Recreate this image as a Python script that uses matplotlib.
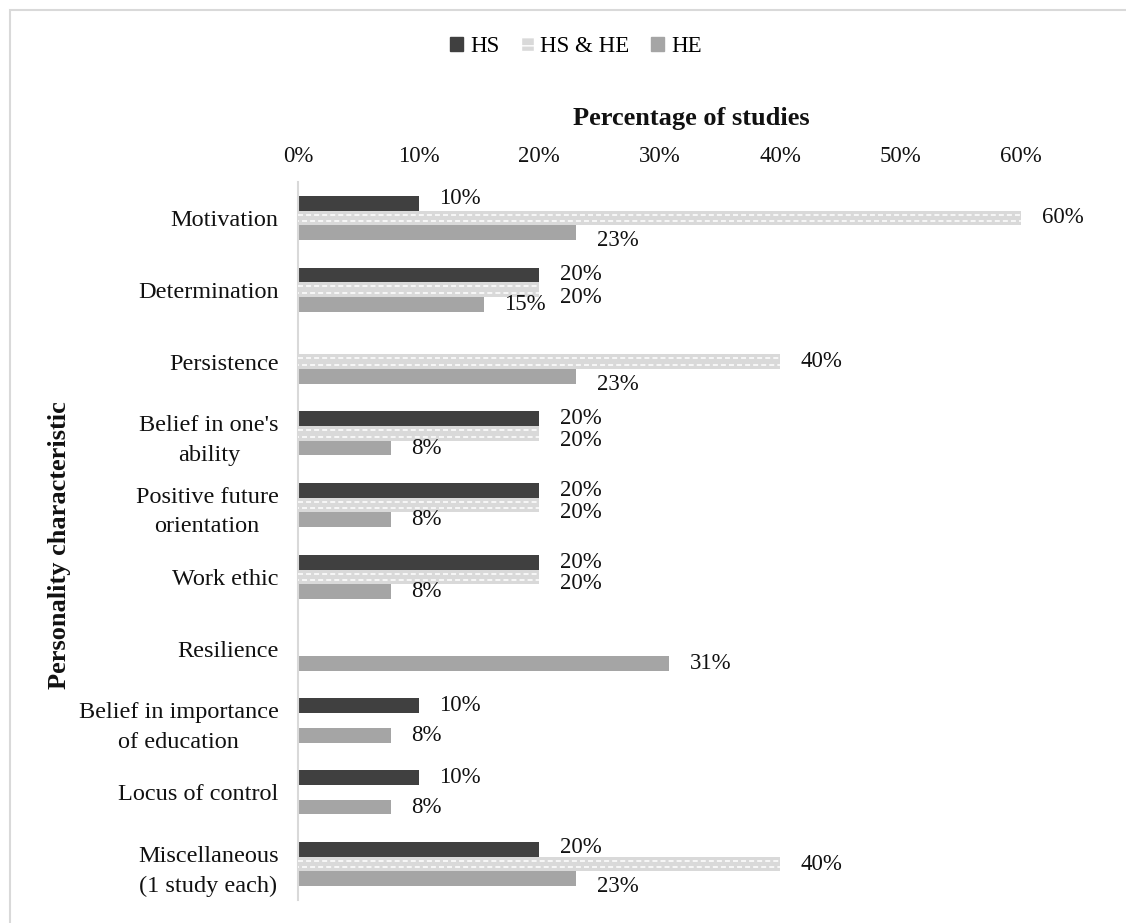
import matplotlib
matplotlib.use("Agg")
import matplotlib.pyplot as plt
from matplotlib.patches import Patch, Rectangle
import numpy as np

# Personality characteristics reported, share of studies per group
categories = [
    "Motivation",
    "Determination",
    "Persistence",
    "Belief in one's\nability",
    "Positive future\norientation",
    "Work ethic",
    "Resilience",
    "Belief in importance\nof education",
    "Locus of control",
    "Miscellaneous\n(1 study each)",
]
series_names = ["HS", "HS & HE", "HE"]
hs_values = [10, 20, 0, 20, 20, 20, 0, 10, 10, 20]
hs_he_values = [60, 20, 40, 20, 20, 20, 0, 0, 0, 40]
he_values = [23.1, 15.4, 23.1, 7.7, 7.7, 7.7, 30.8, 7.7, 7.7, 23.1]
x_ticks = [0, 10, 20, 30, 40, 50, 60]

# vertical nudges (pixels, downward) for data labels so neighbours don't collide
label_nudge = {
    "HS": [-5, 0, 0, 0, 0, 0, 0, 0, 0, -2],
    "HS & HE": [0, 8, 0, 7, 7, 7, 0, 0, 0, 0],
    "HE": [8, 0, 8, 0, 0, 0, 0, 0, 0, 8],
}

FONT = "Liberation Serif"
plt.rcParams["font.family"] = [FONT, "DejaVu Serif"]
plt.rcParams["lines.scale_dashes"] = False

W, H, DPI = 1126, 923, 100
fig = plt.figure(figsize=(W / DPI, H / DPI), dpi=DPI)
fig.patch.set_facecolor("white")

left_px, right_px, top_px, bottom_px = 298, 1021, 182, 900
ax = fig.add_axes([left_px / W, 1 - bottom_px / H,
                   (right_px - left_px) / W, (bottom_px - top_px) / H])

colors = {"HS": "#404040", "HS & HE": "#d9d9d9", "HE": "#a5a5a5"}
values = {"HS": hs_values, "HS & HE": hs_he_values, "HE": he_values}
bar_h = 0.205
offsets = {"HS": -bar_h, "HS & HE": 0.0, "HE": bar_h}
y = np.arange(len(categories))

bars = {}
for name in series_names:
    vals = np.array(values[name], dtype=float) / 100.0
    bars[name] = ax.barh(y + offsets[name], vals, height=bar_h,
                         color=colors[name], linewidth=0, zorder=2)

# white dashed rows on the light bars (brick-like pattern)
for rect in bars["HS & HE"]:
    w = rect.get_width()
    if w <= 0:
        continue
    y0 = rect.get_y()
    h = rect.get_height()
    for k, frac in enumerate([0.28, 0.72]):
        ln, = ax.plot([0, w], [y0 + h * frac] * 2, color="white", lw=1.1,
                      solid_capstyle="butt", dash_capstyle="butt", zorder=3)
        ln.set_linestyle((0.0 if k == 0 else 2.9, (3.6, 2.2)))
        ln.set_clip_path(rect)

ax.set_xlim(0, 0.6)
ax.set_ylim(len(categories) - 0.5, -0.5)

ax.xaxis.tick_top()
ax.set_xticks([t / 100 for t in x_ticks])
ax.set_xticklabels([f"{t}%" for t in x_ticks], fontsize=16.5, color="#111111")
ax.tick_params(axis="x", length=0, pad=11)
ax.set_yticks(y)
ax.set_yticklabels(categories, fontsize=17.5, color="#111111")
ax.tick_params(axis="y", length=0, pad=14)
for lbl in ax.get_yticklabels():
    lbl.set_multialignment("center")
    lbl.set_linespacing(1.55)

for side in ["top", "right", "bottom"]:
    ax.spines[side].set_visible(False)
ax.spines["left"].set_color("#d9d9d9")
ax.spines["left"].set_linewidth(1.5)
ax.set_facecolor("none")

# data labels
px_to_pt = 72.0 / DPI
for name in series_names:
    for i, v in enumerate(values[name]):
        if v <= 0:
            continue
        ax.annotate(f"{v:.0f}%", xy=(v / 100.0, y[i] + offsets[name]),
                    xytext=(15, -label_nudge[name][i] * px_to_pt),
                    textcoords="offset points", ha="left", va="center",
                    fontsize=16.5, color="#111111", annotation_clip=False)

# axis titles
fig.text(691 / W, 1 - 118 / H, "Percentage of studies", ha="center",
         va="center", fontsize=19, fontweight="bold", color="#111111")
fig.text(60 / W, 1 - 545 / H, "Personality characteristic", ha="center",
         va="center", rotation=90, fontsize=19, fontweight="bold",
         color="#111111")

# legend
handles = [
    Patch(facecolor=colors["HS"], edgecolor=colors["HS"], label="HS"),
    Patch(facecolor=colors["HS & HE"], edgecolor="white", hatch="--",
          label="HS & HE"),
    Patch(facecolor=colors["HE"], edgecolor=colors["HE"], label="HE"),
]
fig.legend(handles=handles, loc="center", bbox_to_anchor=(576 / W, 1 - 47 / H),
           ncol=3, frameon=False, fontsize=16.5, handlelength=0.55,
           handleheight=0.55, handletextpad=0.3, columnspacing=0.95,
           borderpad=0, borderaxespad=0)

# chart-area border (left and top edges visible)
fig.patches.append(Rectangle((10 / W, -0.1), 1.2, (1 - 10 / H) + 0.1,
                             transform=fig.transFigure, fill=False,
                             edgecolor="#d9d9d9", linewidth=1.5, zorder=0))

fig.savefig("out.png", dpi=DPI, facecolor="white")
